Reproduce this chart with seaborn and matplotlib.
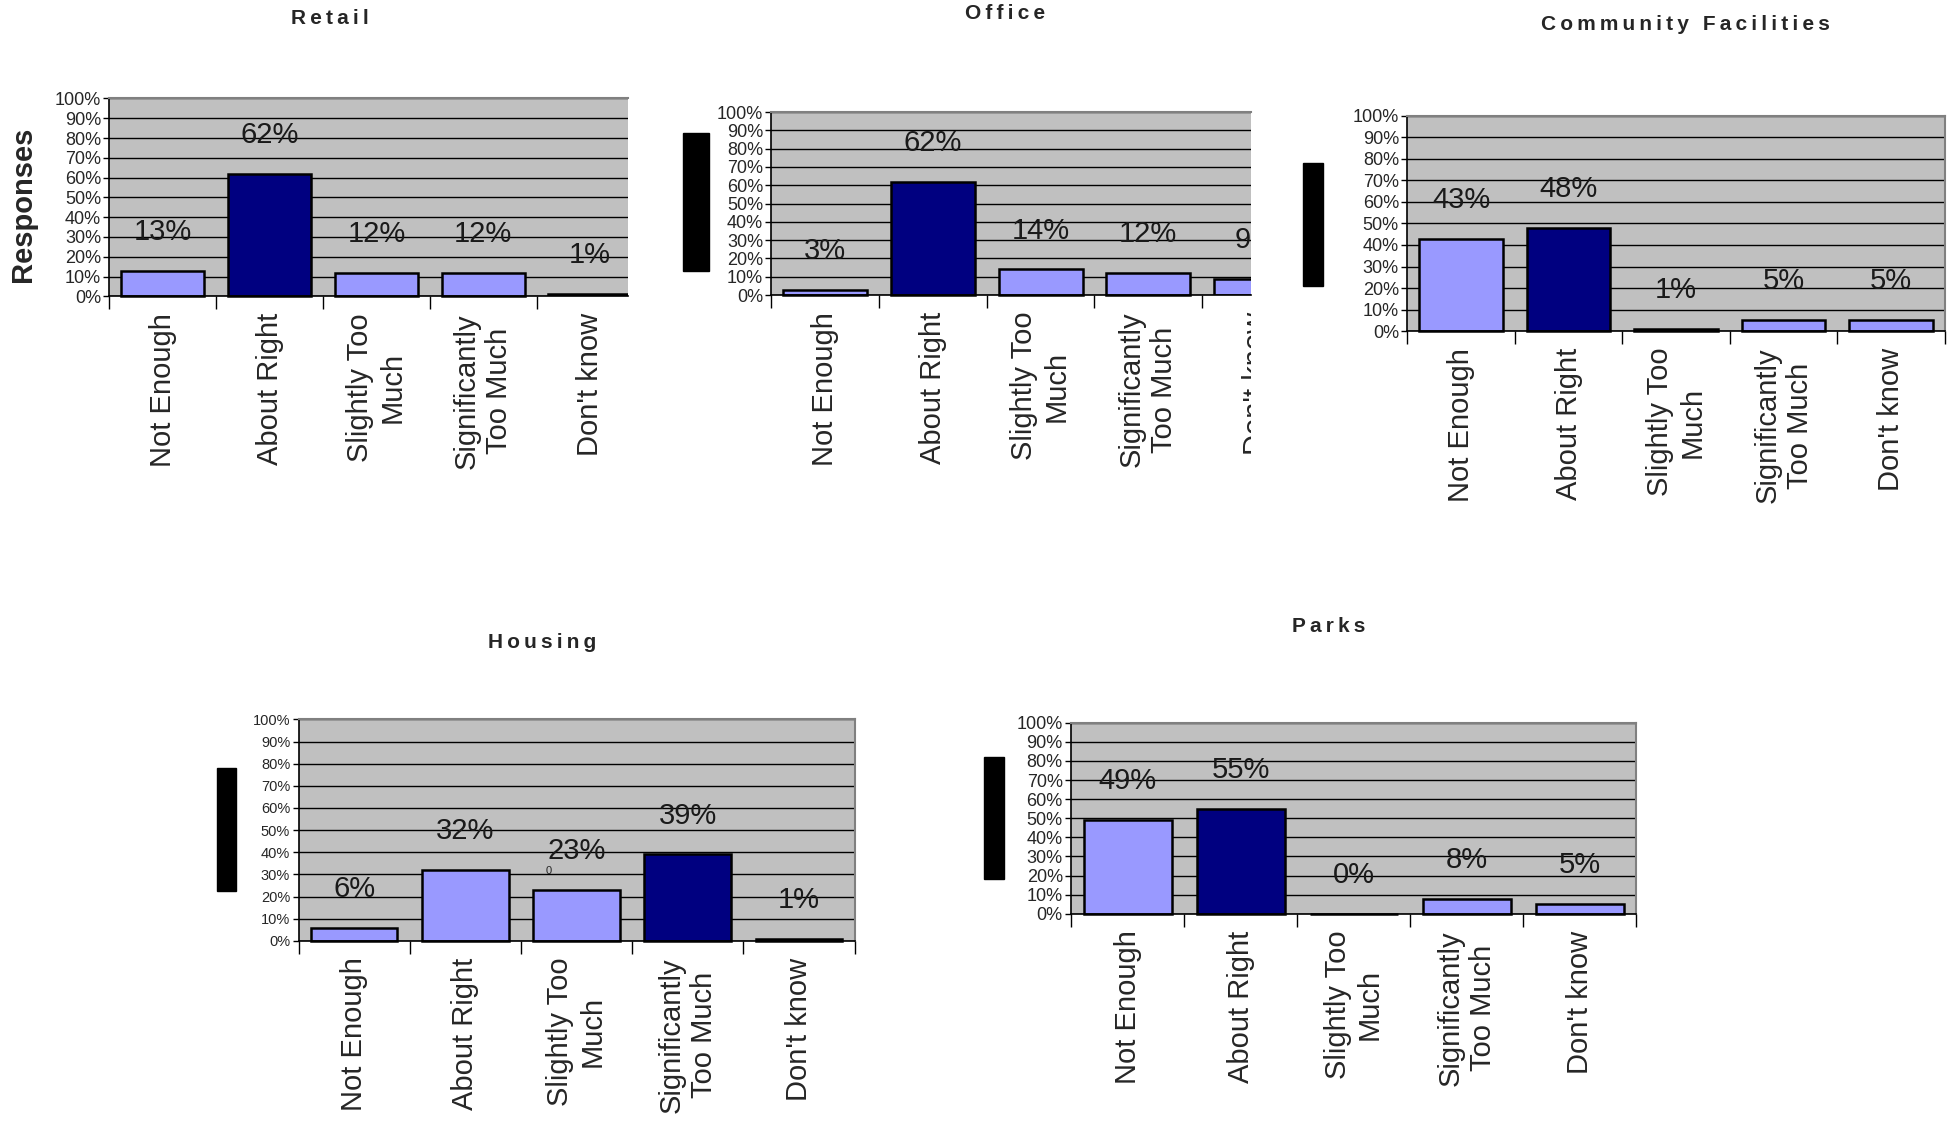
import numpy as np
import matplotlib
matplotlib.use("Agg")
import matplotlib.pyplot as plt
import seaborn as sns
from matplotlib.patches import Rectangle
from matplotlib.transforms import Bbox, TransformedBbox, blended_transform_factory, offset_copy

# categories shared by all five panels
categories = ["Not Enough", "About Right", "Slightly Too\nMuch",
              "Significantly\nToo Much", "Don't know"]

# percentages
retail = [13, 62, 12, 12, 1]
office = [3, 62, 14, 12, 9]
community = [43, 48, 1, 5, 5]
housing = [6, 32, 23, 39, 1]
parks = [49, 55, 0, 8, 5]

titles = ["Retail", "Office", "Community Facilities", "Housing", "Parks"]

LIGHT = "#9999FF"
DARK = "#000080"
BG = "#C0C0C0"

sns.set_theme(style="white")
plt.rcParams["font.family"] = ["Liberation Sans", "DejaVu Sans"]

fig = plt.figure(figsize=(19.51, 11.24), dpi=100)


def spaced(s):
    return "\u2009".join(s)


def draw_panel(title, values, rect, xmax, title_xy, right_spine=True,
               ytick_size=13):
    ax = fig.add_axes(rect)
    top = max(values)
    colors = [DARK if v == top else LIGHT for v in values]
    sns.barplot(x=categories, y=values, hue=categories, palette=colors,
                legend=False, width=0.78, edgecolor="black", linewidth=1.8,
                saturation=1, ax=ax)
    ax.set_facecolor(BG)
    ax.set_xlabel("")
    ax.set_ylabel("")

    ax.set_yticks(range(0, 101, 10))
    ax.set_yticklabels([f"{t}%" for t in range(0, 101, 10)])
    ax.yaxis.grid(True, color="black", linewidth=1)
    ax.set_axisbelow(True)

    ax.set_xticks(range(len(categories)))
    ax.set_xticklabels(categories, rotation=90, fontsize=21, va="top",
                       ha="center", multialignment="center")
    ax.set_xticks(np.arange(-0.5, len(categories), 1), minor=True)
    ax.tick_params(axis="x", which="major", length=0, pad=12)
    ax.tick_params(axis="x", which="minor", length=9, width=1,
                   color="black", direction="out", bottom=True)
    ax.tick_params(axis="y", length=4, width=1, color="black",
                   direction="out", pad=2, labelsize=ytick_size, left=True)
    # limits last, so the ticks do not widen them
    ax.set_xlim(-0.5, xmax)
    ax.set_ylim(0, 100)

    # let the outline of bars that sit fully inside show below the baseline
    for p in ax.patches:
        if p.get_x() + p.get_width() <= xmax:
            p.set_clip_on(False)

    for side in ["left", "bottom"]:
        ax.spines[side].set_color("black")
        ax.spines[side].set_linewidth(1.2)
    ax.spines["top"].set_color("#808080")
    ax.spines["top"].set_linewidth(1.5)
    ax.spines["right"].set_color("#808080")
    ax.spines["right"].set_linewidth(1.5)
    ax.spines["right"].set_visible(right_spine)

    for i, v in enumerate(values):
        t = ax.annotate(f"{v}%", (i, v), xytext=(0, 28),
                        textcoords="offset points", ha="center", va="center",
                        fontsize=21, color="#1a1a1a", annotation_clip=False)
        t.set_clip_on(True)
        t.set_clip_box(ax.bbox)

    fig.text(title_xy[0], title_xy[1], spaced(title), ha="center",
             va="center", fontsize=15, fontweight="bold")
    return ax


draw_panel(titles[0], retail, [0.0561, 0.7364, 0.266, 0.176], 4.36,
           (0.169, 0.9834), right_spine=False)
ax_office = draw_panel(titles[1], office, [0.3954, 0.7375, 0.2456, 0.1628],
                       3.95, (0.515, 0.9878), right_spine=False)
draw_panel(titles[2], community, [0.7213, 0.7054, 0.2755, 0.1916], 4.5,
           (0.864, 0.978))
ax_housing = draw_panel(titles[3], housing, [0.153, 0.163, 0.285, 0.197],
                        4.5, (0.278, 0.4286), ytick_size=10.5)
draw_panel(titles[4], parks, [0.549, 0.187, 0.2897, 0.170], 4.5,
           (0.681, 0.443))

# the Office chart is cut off on the right, including its last label
trans = offset_copy(blended_transform_factory(ax_office.transData,
                                              ax_office.transAxes),
                    fig=fig, y=-12, units="points")
cut = ax_office.text(4, 0, categories[4], transform=trans, rotation=90,
                     fontsize=21, ha="center", va="top")
cut.set_clip_on(True)
cut.set_clip_path(None)
cut.set_clip_box(TransformedBbox(Bbox.from_extents(0, 0, 0.3954 + 0.2456, 1),
                                 fig.transFigure))

# stray small label above the Housing "Slightly Too Much" bar
ax_housing.text(1.75, 31.5, "0", fontsize=8, ha="center", va="center")

fig.text(0.0119, 0.8185, "Responses", rotation=90, ha="center", va="center",
         fontsize=21, fontweight="bold")

# black blocks covering the y-axis titles of the other panels
for x0, x1, y0, y1 in [(0.3501, 0.3635, 0.7586, 0.8815),
                       (0.6677, 0.6779, 0.7453, 0.8549),
                       (0.1110, 0.1212, 0.2071, 0.3167),
                       (0.5045, 0.5147, 0.2182, 0.3267)]:
    fig.patches.append(Rectangle((x0, y0), x1 - x0, y1 - y0,
                                 transform=fig.transFigure, color="black"))

fig.savefig("out.png", dpi=100)
